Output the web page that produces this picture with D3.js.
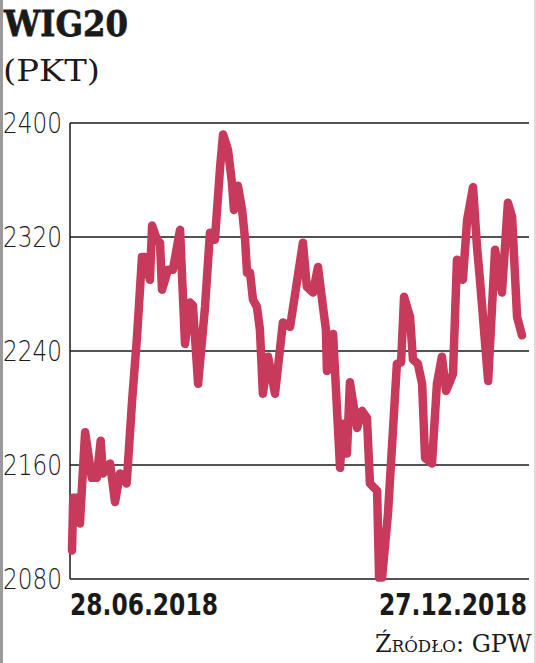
<!DOCTYPE html>
<html>
<head>
<meta charset="utf-8">
<script src="https://cdn.jsdelivr.net/npm/d3@7"></script>
<style>
  html, body { margin: 0; padding: 0; background: #fff; }
  svg { display: block; }
</style>
</head>
<body>
<div id="chart"></div>
<script>
//// ============================== DATA ============================== ////

// days after 28.06.2018 and WIG20 close
var days = [0, 0.5, 1.9, 3.2, 5.3, 8.0, 10.0, 11.6, 12.5, 15.4, 17.4, 19.4, 22.1, 24.3, 26.3, 28.3,
    29.5, 31.5, 32.4, 34.4, 35.6, 36.4, 38.8, 40.8, 43.7, 45.7, 47.7, 48.9, 51.0, 53.8, 55.8, 57.8,
    59.9, 61.1, 63.1, 64.7, 65.5, 67.1, 68.8, 70.0, 70.8, 72.0, 73.2, 74.8, 76.0, 77.2, 79.3, 82.1,
    84.1, 85.3, 88.2, 93.4, 95.0, 97.5, 99.5, 101.5, 102.7, 103.1, 105.6, 108.4, 109.6, 111.2, 112.4,
    115.3, 117.3, 119.3, 120.5, 123.4, 124.2, 125.4, 127.8, 129.8, 131.4, 133.1, 134.3, 136.7, 137.9,
    139.9, 141.6, 142.8, 145.6, 147.6, 149.6, 151.3, 154.1, 155.7, 158.1, 159.8, 162.2, 163.8, 165.0,
    168.3, 171.1, 173.9, 176.3, 178.0, 180.0, 182];

var values = [2100, 2137, 2137, 2119, 2183, 2151, 2151, 2177, 2154, 2161, 2134, 2154, 2147, 2205, 2250, 2306,
    2306, 2290, 2328, 2318, 2316, 2283, 2297, 2297, 2325, 2245, 2274, 2272, 2217, 2271, 2323, 2318,
    2369, 2392, 2381, 2358, 2339, 2356, 2339, 2318, 2295, 2295, 2276, 2271, 2255, 2210, 2236, 2210,
    2241, 2260, 2257, 2316, 2285, 2281, 2299, 2271, 2255, 2226, 2252, 2158, 2189, 2168, 2218,
    2186, 2198, 2193, 2147, 2142, 2081, 2081, 2126, 2184, 2231, 2232, 2278, 2264, 2234,
    2231, 2217, 2165, 2161, 2217, 2236, 2212, 2224, 2304, 2290, 2332, 2355, 2313, 2290,
    2219, 2311, 2281, 2344, 2334, 2264, 2251];

var yTicks = [2080, 2160, 2240, 2320, 2400];
var dateLabels = ["28.06.2018", "27.12.2018"];
var title = "WIG20";
var unit = "(PKT)";
var source = "Źródło: GPW";

//// ============================== LAYOUT ============================== ////

var width = 536;
var height = 663;
var plotLeft = 70;
var plotRight = 529;
var plotTop = 123;
var plotBottom = 579;
var lineColor = "#c73a5b";

var svg = d3.select("#chart").append("svg")
    .attr("width", width)
    .attr("height", height);

var startDate = new Date(2018, 5, 28);
var dates = days.map(function(d) { return new Date(startDate.getTime() + d * 86400000); });

var x = d3.scaleTime()
    .domain([startDate, new Date(2018, 11, 27)])
    .range([72, 522]);

var y = d3.scaleLinear()
    .domain([2080, 2400])
    .range([plotBottom, plotTop]);

// squeeze a text horizontally so it is exactly w px wide, anchored at ax
function fitText(t, w, ax, ay, anchor) {
    var natural = t.node().getComputedTextLength();
    var k = w / natural;
    var left = anchor === "end" ? ax - w : ax;
    t.attr("x", 0).attr("y", 0)
        .attr("text-anchor", "start")
        .attr("transform", "translate(" + left + "," + ay + ") scale(" + k + ",1)");
}

// scan edges
svg.append("rect").attr("x", 0).attr("y", 0).attr("width", 3).attr("height", height).style("fill", "#9a9a9a");
svg.append("rect").attr("x", 534).attr("y", 0).attr("width", 2).attr("height", height).style("fill", "#dcdcdc");

//// ============================== TITLES ============================== ////

var t1 = svg.append("text")
    .style("font-family", "'DejaVu Serif', serif")
    .style("font-weight", "bold")
    .style("font-size", "36px")
    .style("fill", "#1a1a1a")
    .style("stroke", "#1a1a1a")
    .style("stroke-width", 0.8)
    .text(title);
fitText(t1, 124, 4, 36, "start");

var t2 = svg.append("text")
    .style("font-family", "'DejaVu Serif', serif")
    .style("font-size", "29px")
    .style("fill", "#1a1a1a")
    .text(unit);
fitText(t2, 97, 3, 81, "start");

//// ============================== GRID & AXIS ============================== ////

svg.selectAll(".grid")
    .data(yTicks)
    .enter().append("line")
    .attr("class", "grid")
    .attr("x1", plotLeft)
    .attr("x2", plotRight)
    .attr("y1", function(d) { return y(d); })
    .attr("y2", function(d) { return y(d); })
    .style("stroke", "#1a1a1a")
    .style("stroke-width", 1.5);

svg.append("line")
    .attr("x1", plotLeft).attr("x2", plotLeft)
    .attr("y1", y(2400)).attr("y2", y(2080))
    .style("stroke", "#1a1a1a")
    .style("stroke-width", 1.5);

svg.selectAll(".ytick")
    .data(yTicks)
    .enter().append("text")
    .attr("class", "ytick")
    .attr("dy", "0.36em")
    .style("font-family", "'DejaVu Sans', sans-serif")
    .style("font-weight", "300")
    .style("font-size", "29px")
    .style("fill", "#1a1a1a")
    .text(function(d) { return d; })
    .each(function(d) { fitText(d3.select(this), 59, 62, y(d), "end"); });

svg.selectAll(".xlab")
    .data(dateLabels)
    .enter().append("text")
    .attr("class", "xlab")
    .style("font-family", "'DejaVu Sans', sans-serif")
    .style("font-weight", "bold")
    .style("font-size", "30px")
    .style("fill", "#1a1a1a")
    .text(function(d) { return d; })
    .each(function(d, i) {
        fitText(d3.select(this), 148, i === 0 ? plotLeft : 527, 615, i === 0 ? "start" : "end");
    });

var src = svg.append("text")
    .style("font-family", "'DejaVu Serif', serif")
    .style("font-variant", "small-caps")
    .style("font-size", "25px")
    .style("fill", "#1a1a1a")
    .text(source);
fitText(src, 159, 534, 652, "end");

//// ============================== LINE ============================== ////

var line = d3.line()
    .x(function(d, i) { return x(dates[i]); })
    .y(function(d) { return y(d); });

svg.append("path")
    .datum(values)
    .attr("d", line)
    .style("fill", "none")
    .style("stroke", lineColor)
    .style("stroke-width", 8.5)
    .style("stroke-linejoin", "round")
    .style("stroke-linecap", "round");
</script>
</body>
</html>
